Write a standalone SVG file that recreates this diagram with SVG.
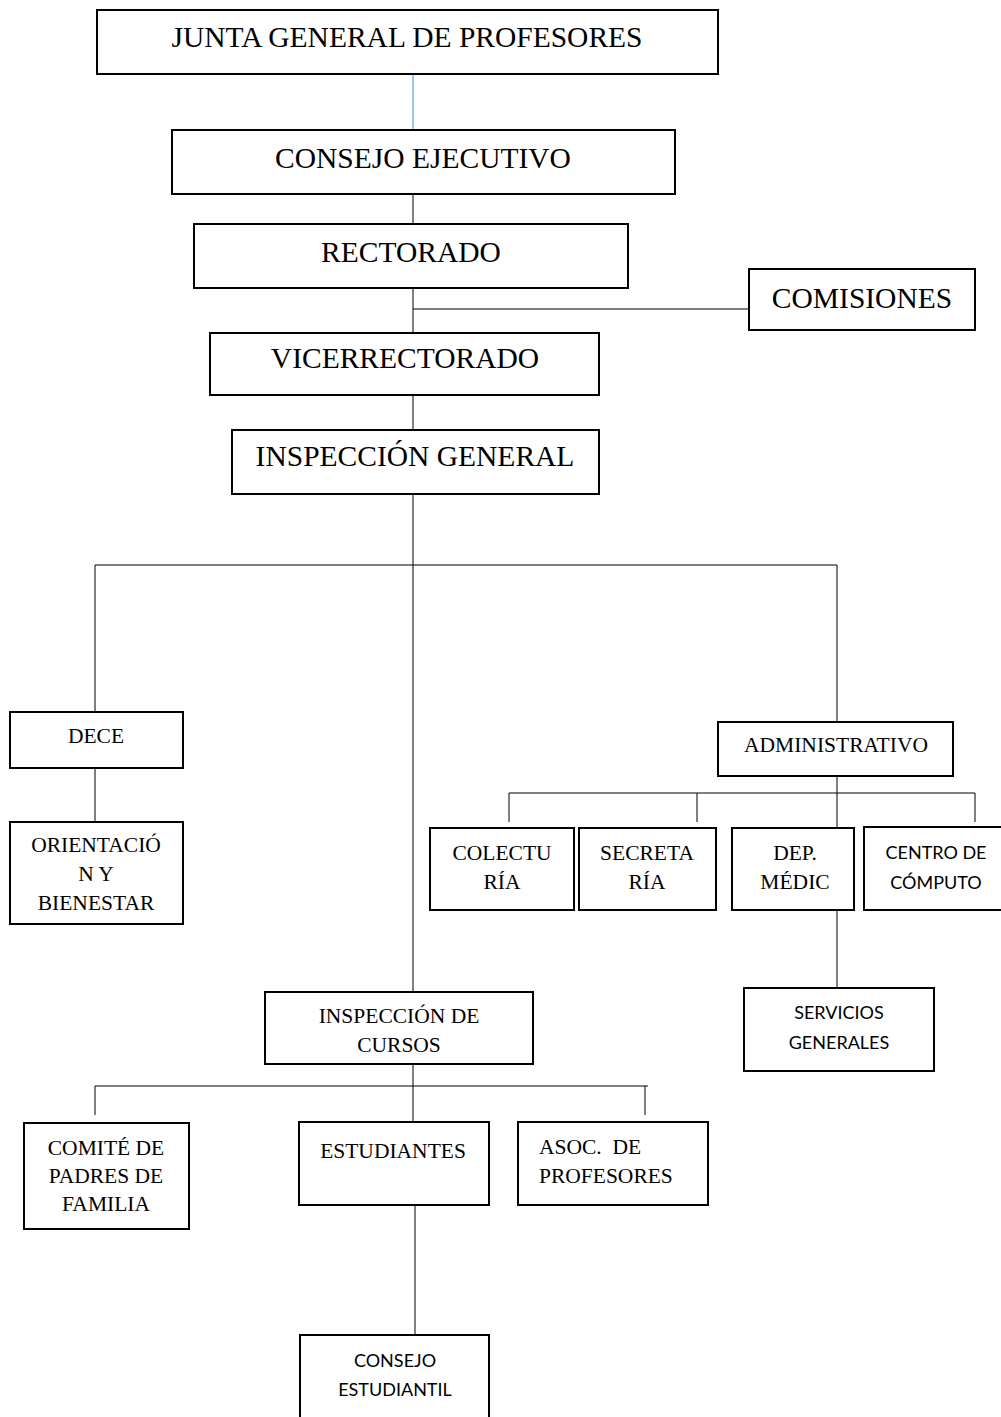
<svg xmlns="http://www.w3.org/2000/svg" width="1001" height="1417" viewBox="0 0 1001 1417">
<style>
rect{fill:#fff;stroke:#000;stroke-width:2}
.c line{stroke:#000;stroke-width:1}
text{fill:#000;text-anchor:middle}
.big{font-family:"Liberation Serif","Times New Roman",serif;font-size:29.5px}
.sm{font-family:"Liberation Serif","Times New Roman",serif;font-size:21.5px}
.sans{font-family:"Lato","Open Sans","Liberation Sans",sans-serif;font-size:18px}
</style>
<rect x="0" y="0" width="1001" height="1417" style="stroke:none"/>
<g class="c">
<line x1="413" y1="74" x2="413" y2="130" style="stroke:#3a8fd8"/>
<line x1="413" y1="194" x2="413" y2="224"/>
<line x1="413" y1="288" x2="413" y2="333"/>
<line x1="413" y1="309" x2="749" y2="309"/>
<line x1="413" y1="395" x2="413" y2="430"/>
<line x1="413" y1="494" x2="413" y2="992"/>
<line x1="95" y1="565" x2="837" y2="565"/>
<line x1="95" y1="565" x2="95" y2="712"/>
<line x1="837" y1="565" x2="837" y2="722"/>
<line x1="95" y1="768" x2="95" y2="822"/>
<line x1="837" y1="776" x2="837" y2="828"/>
<line x1="509" y1="793" x2="975" y2="793"/>
<line x1="509" y1="793" x2="509" y2="822"/>
<line x1="697" y1="793" x2="697" y2="822"/>
<line x1="975" y1="793" x2="975" y2="822"/>
<line x1="837" y1="910" x2="837" y2="988"/>
<line x1="413" y1="1064" x2="413" y2="1122"/>
<line x1="95" y1="1086" x2="648" y2="1086"/>
<line x1="95" y1="1086" x2="95" y2="1115"/>
<line x1="645" y1="1086" x2="645" y2="1115"/>
<line x1="415" y1="1205" x2="415" y2="1335"/>
</g>
<g id="junta"><rect x="97" y="10" width="621" height="64"/><text class="big" x="407" y="47">JUNTA GENERAL DE PROFESORES</text></g>
<g id="consejo-ejecutivo"><rect x="172" y="130" width="503" height="64"/><text class="big" x="423" y="168">CONSEJO EJECUTIVO</text></g>
<g id="rectorado"><rect x="194" y="224" width="434" height="64"/><text class="big" x="411" y="262">RECTORADO</text></g>
<g id="comisiones"><rect x="749" y="269" width="226" height="61"/><text class="big" x="862" y="308">COMISIONES</text></g>
<g id="vicerrectorado"><rect x="210" y="333" width="389" height="62"/><text class="big" x="405" y="368">VICERRECTORADO</text></g>
<g id="inspeccion-general"><rect x="232" y="430" width="367" height="64"/><text class="big" x="415" y="466">INSPECCIÓN GENERAL</text></g>
<g id="dece"><rect x="10" y="712" width="173" height="56"/><text class="sm" x="96" y="743">DECE</text></g>
<g id="orientacion"><rect x="10" y="822" width="173" height="102"/><text class="sm" x="96" y="852">ORIENTACIÓ</text><text class="sm" x="96" y="881">N Y</text><text class="sm" x="96" y="910">BIENESTAR</text></g>
<g id="administrativo"><rect x="718" y="722" width="235" height="54"/><text class="sm" x="836" y="752">ADMINISTRATIVO</text></g>
<g id="colecturia"><rect x="430" y="828" width="144" height="82"/><text class="sm" x="502" y="860">COLECTU</text><text class="sm" x="502" y="889">RÍA</text></g>
<g id="secretaria"><rect x="579" y="828" width="137" height="82"/><text class="sm" x="647" y="860">SECRETA</text><text class="sm" x="647" y="889">RÍA</text></g>
<g id="dep-medic"><rect x="732" y="828" width="122" height="82"/><text class="sm" x="795" y="860">DEP.</text><text class="sm" x="795" y="889">MÉDIC</text></g>
<g id="centro-computo"><rect x="864" y="827" width="140" height="83"/><text class="sans" x="936" y="859">CENTRO DE</text><text class="sans" x="936" y="889">CÓMPUTO</text></g>
<g id="servicios"><rect x="744" y="988" width="190" height="83"/><text class="sans" x="839" y="1019">SERVICIOS</text><text class="sans" x="839" y="1049">GENERALES</text></g>
<g id="inspeccion-cursos"><rect x="265" y="992" width="268" height="72"/><text class="sm" x="399" y="1023">INSPECCIÓN DE</text><text class="sm" x="399" y="1052">CURSOS</text></g>
<g id="comite"><rect x="24" y="1123" width="165" height="106"/><text class="sm" x="106" y="1155">COMITÉ DE</text><text class="sm" x="106" y="1183">PADRES DE</text><text class="sm" x="106" y="1211">FAMILIA</text></g>
<g id="estudiantes"><rect x="299" y="1122" width="190" height="83"/><text class="sm" x="393" y="1158">ESTUDIANTES</text></g>
<g id="asoc"><rect x="518" y="1122" width="190" height="83"/><text class="sm" x="539" y="1154" style="text-anchor:start;white-space:pre">ASOC.  DE</text><text class="sm" x="539" y="1183" style="text-anchor:start">PROFESORES</text></g>
<g id="consejo-estudiantil"><rect x="300" y="1335" width="189" height="90"/><text class="sans" x="395" y="1367">CONSEJO</text><text class="sans" x="395" y="1396">ESTUDIANTIL</text></g>
</svg>
